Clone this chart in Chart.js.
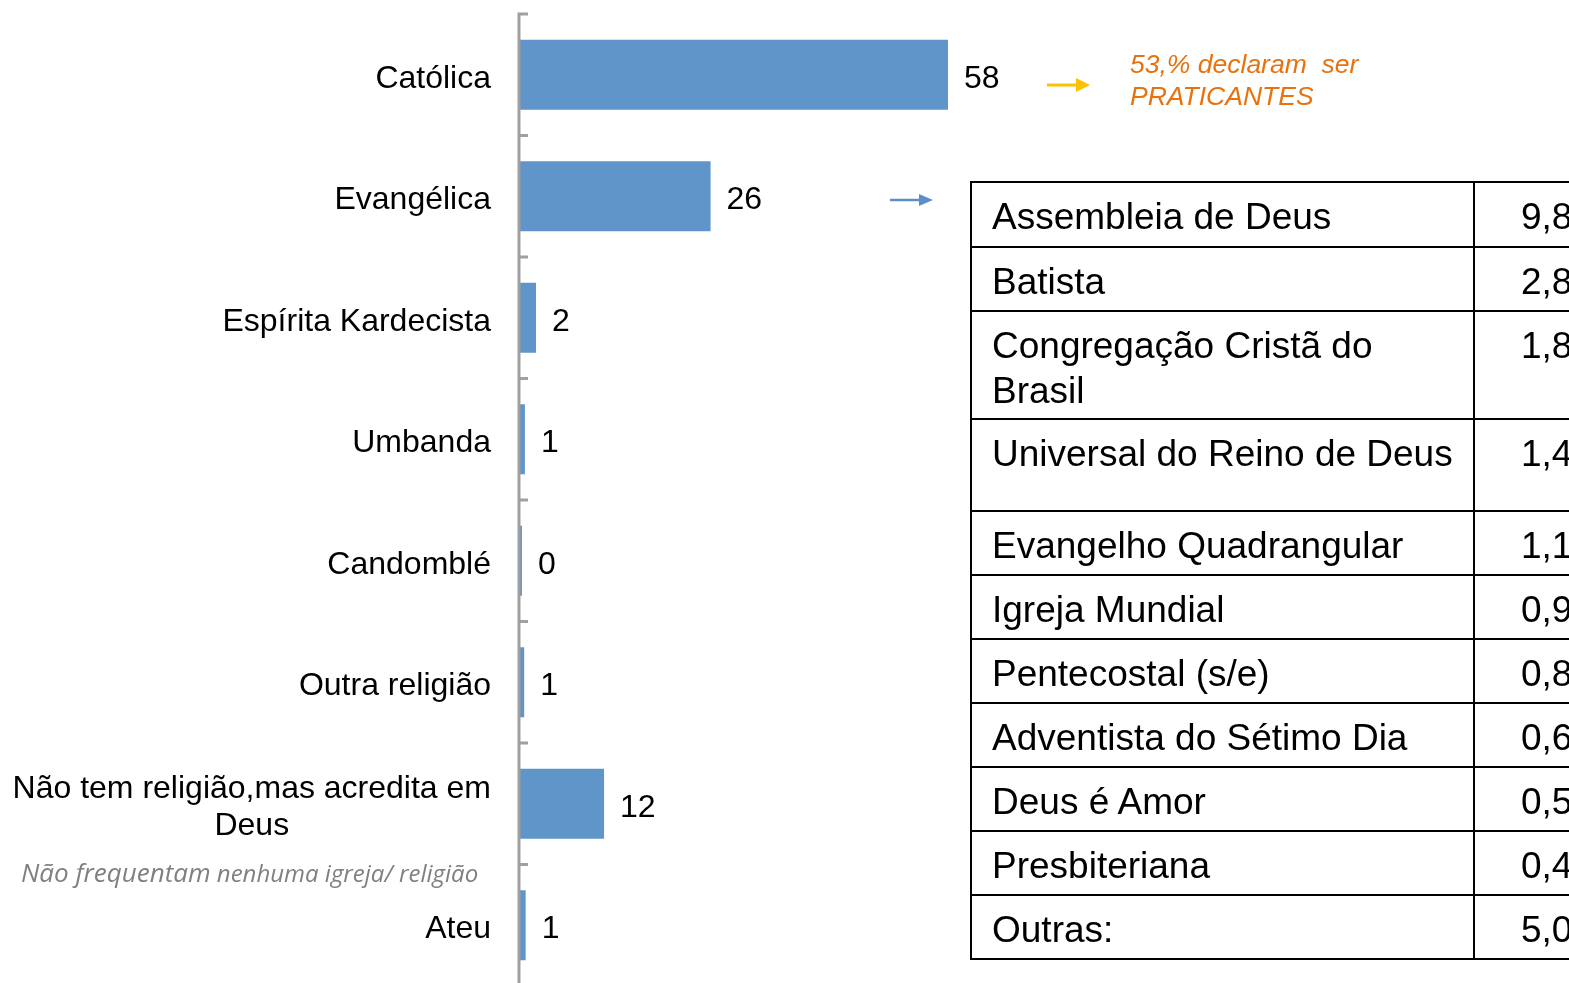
<!DOCTYPE html>
<html>
<head>
<meta charset="utf-8">
<script src="https://cdn.jsdelivr.net/npm/chart.js@4/dist/chart.umd.min.js"></script>
<style>
  html, body { margin: 0; padding: 0; background: #fff; overflow: hidden; width: 1569px; height: 983px; }
  #wrap { position: absolute; left: 0; top: 0; width: 1569px; height: 986px; }
  .note { position: absolute; left: 21px; top: 854px; color: #808080; font-family: "Open Sans", sans-serif; font-style: italic; white-space: nowrap; }
  .note .big { font-size: 26px; }
  .note .small { font-size: 24px; }
  .callout { position: absolute; left: 1130px; top: 48px; color: #E8720E; font: italic 26.5px "Liberation Sans", Arial, sans-serif; line-height: 32px; white-space: pre; }
  table#churches { position: absolute; left: 970px; top: 181px; width: 680px; table-layout: fixed; border-collapse: collapse; font: 37px "Liberation Sans", Arial, sans-serif; color: #000; }
  #churches td { border: 2.5px solid #000; vertical-align: top; padding: 11px 0 0 20px; line-height: 45px; box-sizing: border-box; white-space: nowrap; overflow: hidden; }
  #churches td.name { width: 503px; }
  #churches td.val { width: 177px; padding-left: 46px; }
  svg.arrow { position: absolute; }
</style>
</head>
<body>
<div id="wrap"><canvas id="religionChart"></canvas></div>

<div class="note"><span class="big">Não frequentam</span><span class="small"> nenhuma igreja/ religião</span></div>
<div class="callout">53,% declaram  ser
PRATICANTES</div>

<svg class="arrow" style="left:1044px; top:75px" width="50" height="20">
  <line x1="3" y1="10" x2="34" y2="10" stroke="#FFC000" stroke-width="3"/>
  <polygon points="32,3 46,10 32,17" fill="#FFC000"/>
</svg>
<svg class="arrow" style="left:887px; top:190px" width="50" height="20">
  <line x1="3" y1="10" x2="34" y2="10" stroke="#5B8FC9" stroke-width="2.5"/>
  <polygon points="32,4 46,10 32,16" fill="#5B8FC9"/>
</svg>

<table id="churches"></table>

<script>
const categories = [
  "Católica",
  "Evangélica",
  "Espírita Kardecista",
  "Umbanda",
  "Candomblé",
  "Outra religião",
  ["Não tem religião,mas acredita em", "Deus"],
  "Ateu"
];
const shares = [58, 25.9, 2.3, 0.8, 0.4, 0.7, 11.5, 0.9];

const churchNames = [
  "Assembleia de Deus",
  "Batista",
  "Congregação Cristã do<br>Brasil",
  "Universal do Reino de Deus",
  "Evangelho Quadrangular",
  "Igreja Mundial",
  "Pentecostal (s/e)",
  "Adventista do Sétimo Dia",
  "Deus é Amor",
  "Presbiteriana",
  "Outras:"
];
const churchValues = ["9,8", "2,8", "1,8", "1,4", "1,1", "0,9", "0,8", "0,6", "0,5", "0,4", "5,0"];
const churchRowHeights = [65, 64, 108, 92, 64, 64, 64, 64, 64, 64, 64];

// tabela das igrejas evangélicas
const table = document.getElementById("churches");
churchNames.forEach((name, i) => {
  const row = document.createElement("tr");
  row.style.height = churchRowHeights[i] + "px";
  row.innerHTML = `<td class="name">${name}</td><td class="val">${churchValues[i]}</td>`;
  table.appendChild(row);
});

const axisGray = "#A0A0A0";
const labelFont = '32px "Liberation Sans", Arial, sans-serif';

// eixo vertical, marcas e rótulos desenhados à mão
const axisPlugin = {
  id: "axisPlugin",
  afterDatasetsDraw(chart) {
    const ctx = chart.ctx;
    const area = chart.chartArea;
    const y = chart.scales.y;
    ctx.save();
    ctx.strokeStyle = axisGray;
    ctx.lineWidth = 3;
    ctx.beginPath();
    ctx.moveTo(area.left, area.top - 1.5);
    ctx.lineTo(area.left, area.bottom);
    for (let i = 0; i <= categories.length; i++) {
      const py = y.getPixelForValue(i - 0.5);
      ctx.moveTo(area.left, py);
      ctx.lineTo(area.left + 9, py);
    }
    ctx.stroke();

    ctx.fillStyle = "#000";
    ctx.font = labelFont;
    ctx.textBaseline = "middle";
    categories.forEach((label, i) => {
      const lines = Array.isArray(label) ? label : [label];
      const cy = y.getPixelForValue(i) + 4;
      const lineH = 37;
      const maxW = Math.max(...lines.map((l) => ctx.measureText(l).width));
      const right = area.left - 28;
      lines.forEach((line, k) => {
        const ly = cy + (k - (lines.length - 1) / 2) * lineH;
        if (lines.length > 1) {
          ctx.textAlign = "center";
          ctx.fillText(line, right - maxW / 2, ly);
        } else {
          ctx.textAlign = "right";
          ctx.fillText(line, right, ly);
        }
      });
    });

    // valores ao lado das barras
    const meta = chart.getDatasetMeta(0);
    ctx.textAlign = "left";
    meta.data.forEach((bar, i) => {
      ctx.fillText(String(Math.round(shares[i])), bar.x + 16, bar.y + 4);
    });
    ctx.restore();
  }
};

new Chart(document.getElementById("religionChart"), {
  type: "bar",
  data: {
    labels: categories,
    datasets: [
      {
        data: shares,
        backgroundColor: "#6095C9",
        borderWidth: 0,
        categoryPercentage: 1,
        barPercentage: 0.576
      }
    ]
  },
  options: {
    indexAxis: "y",
    responsive: true,
    maintainAspectRatio: false,
    animation: false,
    layout: { padding: { left: 519, right: 14.5, top: 14, bottom: 0 } },
    plugins: { legend: { display: false }, tooltip: { enabled: false } },
    scales: {
      x: { display: false, min: 0, max: 140 },
      y: { display: false }
    }
  },
  plugins: [axisPlugin]
});
</script>
</body>
</html>
